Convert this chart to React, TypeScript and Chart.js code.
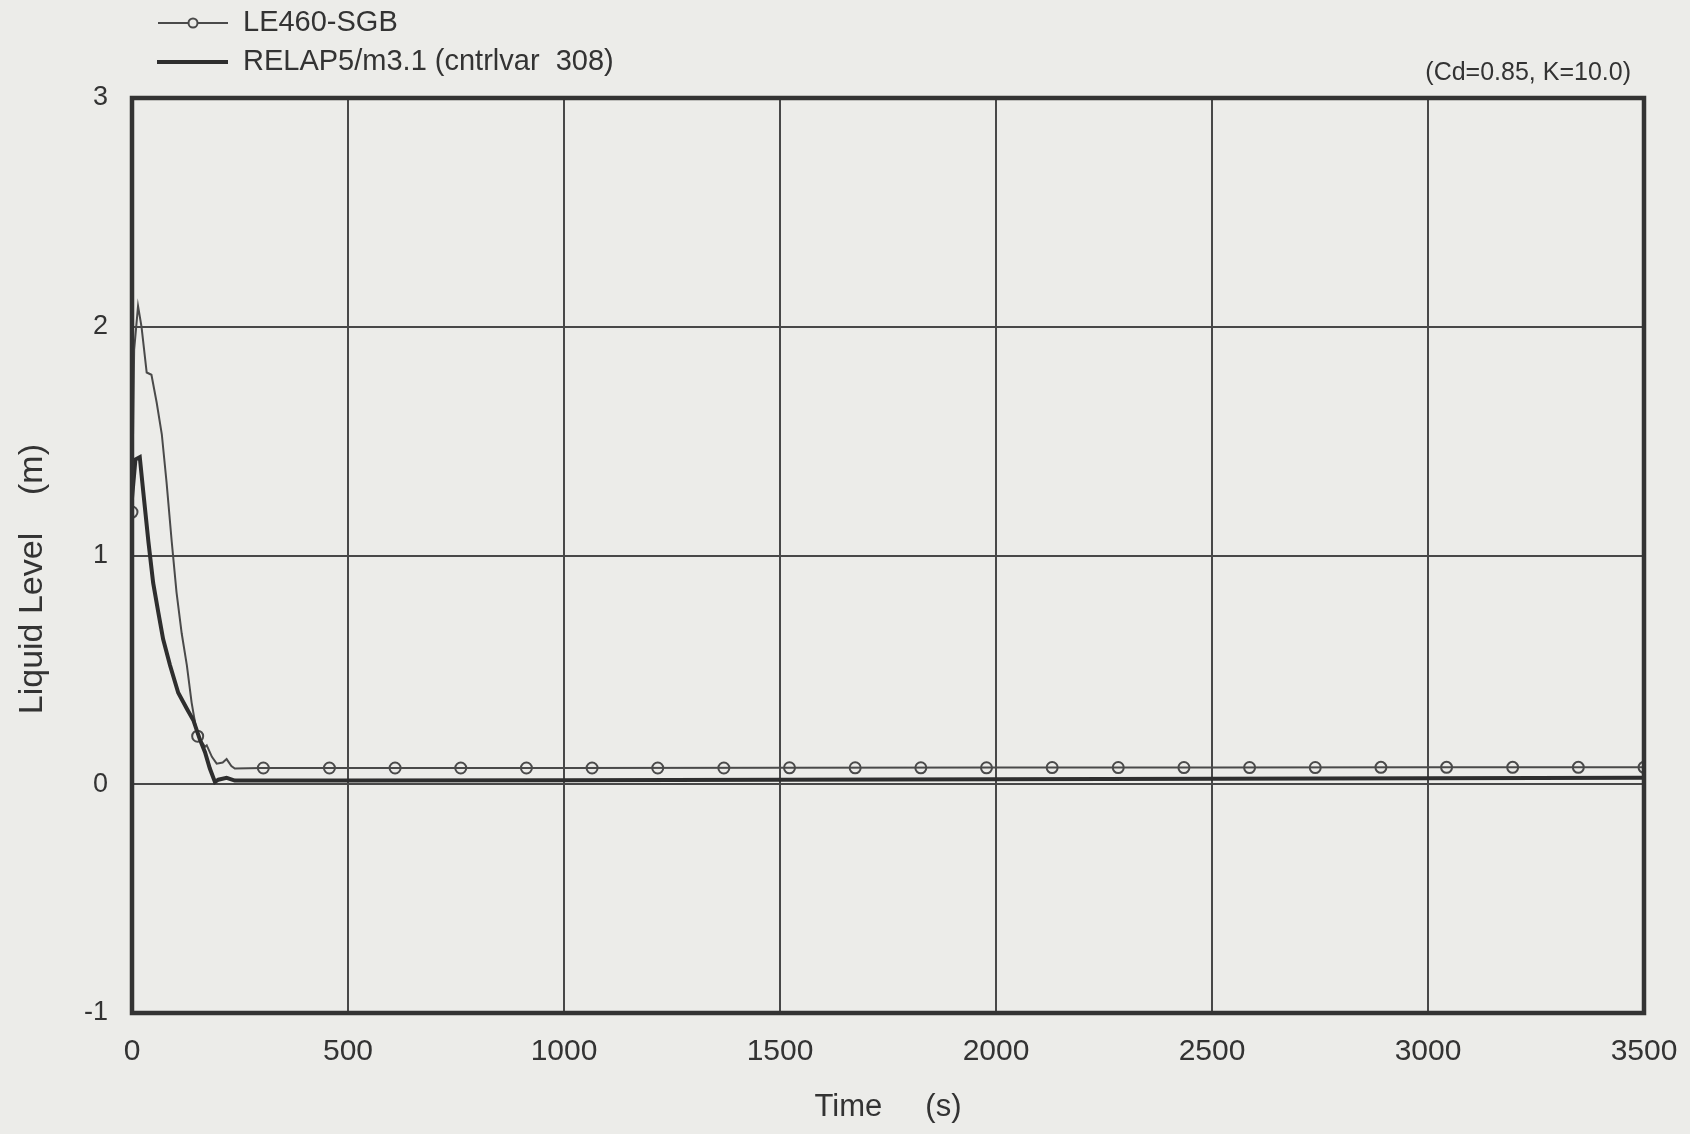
import React, { useEffect, useRef } from "react";
import { Chart, registerables } from "chart.js";

Chart.register(...registerables);

// LE460-SGB experiment (thin line)
const leTime = [0, 5, 14, 22, 34, 45, 57, 69, 80, 92, 103, 115, 127, 138, 150, 160, 169, 173, 185, 196, 210, 219, 230, 238, 300, 600, 1000, 1500, 2000, 2500, 3000, 3500];
const leLevel = [1.19, 1.9, 2.09, 2.0, 1.8, 1.79, 1.67, 1.53, 1.32, 1.06, 0.84, 0.66, 0.52, 0.357, 0.225, 0.19, 0.164, 0.17, 0.12, 0.09, 0.095, 0.11, 0.08, 0.069, 0.071, 0.071, 0.071, 0.072, 0.073, 0.073, 0.074, 0.074];

// LE460-SGB marker positions
const leMarkerTime = [0, 152, 304, 457, 609, 761, 913, 1065, 1217, 1370, 1522, 1674, 1826, 1978, 2130, 2283, 2435, 2587, 2739, 2891, 3043, 3196, 3348, 3500];
const leMarkerLevel = [1.19, 0.21, 0.071, 0.071, 0.071, 0.071, 0.071, 0.071, 0.071, 0.071, 0.072, 0.072, 0.072, 0.072, 0.073, 0.073, 0.073, 0.073, 0.073, 0.074, 0.074, 0.074, 0.074, 0.074];

// RELAP5/m3.1 (thick line)
const reTime = [0, 8, 18, 26, 38, 49, 61, 72, 88, 107, 127, 142, 157, 169, 180, 192, 200, 219, 238, 500, 1000, 1500, 2000, 2500, 3000, 3500];
const reLevel = [1.25, 1.42, 1.43, 1.28, 1.06, 0.88, 0.75, 0.635, 0.52, 0.4, 0.33, 0.28, 0.196, 0.14, 0.07, 0.01, 0.02, 0.028, 0.016, 0.016, 0.018, 0.02, 0.022, 0.024, 0.026, 0.028];

const xTicks = [0, 500, 1000, 1500, 2000, 2500, 3000, 3500];
const yTicks = [-1, 0, 1, 2, 3];

const legendLabels = ["LE460-SGB", "RELAP5/m3.1 (cntrlvar  308)"];
const annotation = "(Cd=0.85, K=10.0)";
const xTitle = "Time     (s)";
const yTitle = "Liquid Level    (m)     ";

const BG = "#ecece9";
const INK = "#333333";
const GRID = "#484848";
const SANS = "'Liberation Sans', Arial, sans-serif";

export default function App() {
  const ref = useRef<HTMLCanvasElement>(null);

  useEffect(() => {
    const framePlugin = {
      id: "frameAndLegend",
      afterDraw(chart: any) {
        const { ctx, chartArea } = chart;
        ctx.save();
        // frame
        ctx.strokeStyle = INK;
        ctx.lineWidth = 4.5;
        ctx.strokeRect(chartArea.left, chartArea.top, chartArea.right - chartArea.left, chartArea.bottom - chartArea.top);

        // legend
        ctx.fillStyle = INK;
        ctx.font = `29px ${SANS}`;
        ctx.textBaseline = "middle";
        ctx.textAlign = "left";
        // entry 1: thin line with circle
        ctx.strokeStyle = "#4a4a4a";
        ctx.lineWidth = 2;
        ctx.beginPath();
        ctx.moveTo(158, 23);
        ctx.lineTo(228, 23);
        ctx.stroke();
        ctx.beginPath();
        ctx.arc(193, 23, 4.5, 0, Math.PI * 2);
        ctx.fillStyle = BG;
        ctx.fill();
        ctx.stroke();
        ctx.fillStyle = INK;
        ctx.fillText(legendLabels[0], 243, 23);
        // entry 2: thick line
        ctx.strokeStyle = "#2e2e2e";
        ctx.lineWidth = 4;
        ctx.beginPath();
        ctx.moveTo(157, 62);
        ctx.lineTo(228, 62);
        ctx.stroke();
        ctx.fillText(legendLabels[1], 243, 62);

        // annotation
        ctx.font = `25px ${SANS}`;
        ctx.textAlign = "right";
        ctx.fillText(annotation, 1631, 73);
        ctx.restore();
      },
    };

    const chart = new Chart(ref.current!, {
      type: "scatter",
      data: {
        datasets: [
          {
            label: legendLabels[1],
            data: reTime.map((t, i) => ({ x: t, y: reLevel[i] })),
            showLine: true,
            borderColor: "#2e2e2e",
            borderWidth: 4,
            pointRadius: 0,
            tension: 0,
          },
          {
            label: legendLabels[0],
            data: leTime.map((t, i) => ({ x: t, y: leLevel[i] })),
            showLine: true,
            borderColor: "#4a4a4a",
            borderWidth: 2,
            pointRadius: 0,
            tension: 0,
          },
          {
            label: legendLabels[0] + " markers",
            data: leMarkerTime.map((t, i) => ({ x: t, y: leMarkerLevel[i] })),
            showLine: false,
            pointRadius: 5.5,
            pointBorderWidth: 2,
            pointBorderColor: "#4a4a4a",
            pointBackgroundColor: BG,
          },
        ],
      },
      options: {
        animation: false,
        responsive: false,
        maintainAspectRatio: false,
        layout: { padding: { top: 98, right: 46, left: 0, bottom: 0 } },
        plugins: { legend: { display: false }, tooltip: { enabled: false } },
        scales: {
          x: {
            type: "linear",
            min: 0,
            max: 3500,
            afterBuildTicks: (s: any) => {
              s.ticks = xTicks.map((v) => ({ value: v }));
            },
            afterFit: (s: any) => {
              s.height = 121;
            },
            grid: { color: GRID, lineWidth: 2, drawTicks: true, tickLength: 21, tickColor: "rgba(0,0,0,0)" },
            border: { display: false },
            ticks: {
              color: INK,
              font: { family: SANS, size: 30 },
              padding: 0,
              maxRotation: 0,
              autoSkip: false,
              callback: (v: any) => String(v),
            },
            title: {
              display: true,
              text: xTitle,
              color: INK,
              font: { family: SANS, size: 31 },
              padding: { top: 0, bottom: 8 },
            },
          },
          y: {
            type: "linear",
            min: -1,
            max: 3,
            afterBuildTicks: (s: any) => {
              s.ticks = yTicks.map((v) => ({ value: v }));
            },
            afterFit: (s: any) => {
              s.width = 132;
            },
            grid: { color: GRID, lineWidth: 2, drawTicks: false },
            border: { display: false },
            ticks: {
              color: INK,
              font: { family: SANS, size: 27 },
              padding: 24,
              callback: (v: any) => String(v),
            },
            title: {
              display: true,
              text: yTitle,
              color: INK,
              font: { family: SANS, size: 34 },
              padding: { top: 12, bottom: 0 },
            },
          },
        },
      },
      plugins: [framePlugin],
    });
    return () => chart.destroy();
  }, []);

  return (
    <div style={{ position: "absolute", left: 0, top: 0, width: 1690, height: 1134, background: BG }}>
      <canvas ref={ref} width={1690} height={1134} style={{ display: "block", width: 1690, height: 1134 }} />
    </div>
  );
}
